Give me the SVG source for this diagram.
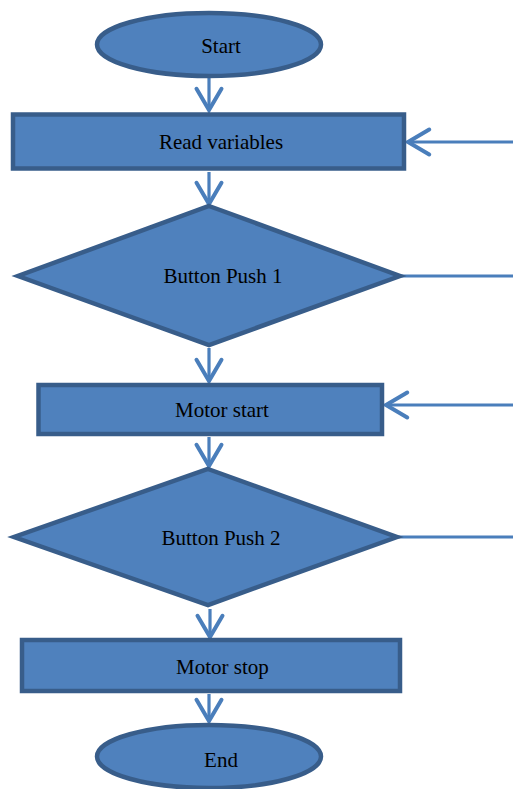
<svg xmlns="http://www.w3.org/2000/svg" width="513" height="789" viewBox="0 0 513 789">
<style>
.n{fill:#4F81BD;stroke:#385D8A;stroke-width:4.5;stroke-linejoin:miter;stroke-miterlimit:10}
.t{font-family:"Liberation Serif","Times New Roman",serif;font-size:21px;fill:#000;text-anchor:middle}
.c{fill:none;stroke:#4A7EBB;stroke-width:3.2}
.a{marker-end:url(#ah)}
</style>
<defs>
<marker id="ah" markerUnits="userSpaceOnUse" markerWidth="30" markerHeight="30" viewBox="-20 -12 24 24" refX="0" refY="0" orient="auto" overflow="visible">
<path d="M-17,-10 L0,0 L-17,10" fill="none" stroke="#4A7EBB" stroke-width="3.2" stroke-linecap="round" stroke-linejoin="miter"/>
</marker>
</defs>
<g id="connectors">
<line class="c a" x1="209" y1="77" x2="209" y2="110"/>
<line class="c a" x1="209" y1="172" x2="209" y2="204"/>
<line class="c a" x1="209" y1="348" x2="209" y2="381"/>
<line class="c a" x1="209" y1="437" x2="209" y2="466"/>
<line class="c a" x1="210" y1="609" x2="210" y2="637"/>
<line class="c a" x1="209" y1="694" x2="209" y2="721"/>
<line class="c a" x1="513" y1="142" x2="408" y2="142"/>
<line class="c" x1="400" y1="276" x2="513" y2="276"/>
<line class="c a" x1="513" y1="405" x2="386" y2="405"/>
<line class="c" x1="397" y1="537" x2="513" y2="537"/>
</g>
<g id="start">
<ellipse class="n" cx="209" cy="44.5" rx="112" ry="31.5"/>
<text class="t" x="221" y="53">Start</text>
</g>
<g id="read">
<rect class="n" x="13" y="114.5" width="391" height="54"/>
<text class="t" x="221" y="149">Read variables</text>
</g>
<g id="push1">
<polygon class="n" points="209,206 400,276 209,345 18,276"/>
<text class="t" x="223" y="283">Button Push 1</text>
</g>
<g id="motorstart">
<rect class="n" x="38.5" y="385" width="343.5" height="49"/>
<text class="t" x="222" y="417">Motor start</text>
</g>
<g id="push2">
<polygon class="n" points="208,469 397,537 208,605 14,537"/>
<text class="t" x="221" y="545">Button Push 2</text>
</g>
<g id="motorstop">
<rect class="n" x="22" y="640" width="378" height="51"/>
<text class="t" x="222.5" y="674">Motor stop</text>
</g>
<g id="end">
<ellipse class="n" cx="209" cy="756.5" rx="112" ry="31.5"/>
<text class="t" x="221" y="767">End</text>
</g>
</svg>
